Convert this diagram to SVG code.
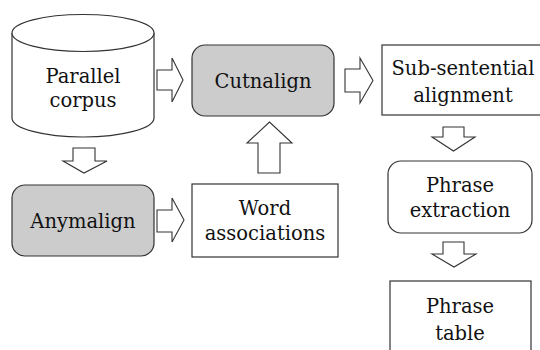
<svg xmlns="http://www.w3.org/2000/svg" width="540" height="350" viewBox="0 0 540 350">
<style>
.box{stroke:#333;stroke-width:1.2;}
.g{fill:#cccccc;}
.w{fill:#fff;}
text{font-family:'DejaVu Serif',serif;font-size:19.5px;fill:#111;text-anchor:middle;}
.arr{fill:#fff;stroke:#333;stroke-width:1.1;stroke-linejoin:miter;}
</style>
<rect width="540" height="350" fill="#fff"/>
<g id="parallel-corpus">
<path class="box w" d="M12,33 L12,118 A71,19 0 0 0 154,118 L154,33"/>
<ellipse class="box w" cx="83" cy="33" rx="71" ry="18.5"/>
<text x="83" y="83">Parallel</text>
<text x="83" y="107">corpus</text>
</g>
<g id="cutnalign">
<rect class="box g" x="192" y="45" width="142" height="71" rx="13"/>
<text x="263" y="88">Cutnalign</text>
</g>
<g id="sub-sentential">
<rect class="box w" x="382" y="45" width="170" height="70"/>
<text x="463" y="75">Sub-sentential</text>
<text x="463" y="102">alignment</text>
</g>
<g id="anymalign">
<rect class="box g" x="12" y="185" width="142" height="71" rx="13"/>
<text x="83" y="228">Anymalign</text>
</g>
<g id="word-associations">
<rect class="box w" x="192" y="184" width="146" height="73"/>
<text x="265" y="215">Word</text>
<text x="265" y="240">associations</text>
</g>
<g id="phrase-extraction">
<rect class="box w" x="388" y="161" width="144" height="72" rx="13"/>
<text x="460" y="192">Phrase</text>
<text x="460" y="217">extraction</text>
</g>
<g id="phrase-table">
<rect class="box w" x="390" y="281" width="141" height="80"/>
<text x="460" y="313">Phrase</text>
<text x="460" y="340">table</text>
</g>
<g id="connectors">
<polygon class="arr" points="157,70 172,70 172,58 183,80 172,102 172,90 157,90"/>
<polygon class="arr" points="345,69 360,69 360,58 373,80.5 360,103 360,92 345,92"/>
<polygon class="arr" points="157,210 172,210 172,198 184,220 172,242 172,232 157,232"/>
<polygon class="arr" points="258,173 258,143 247,143 269.5,122 292,143 280,143 280,173"/>
<polygon class="arr" points="73,148 95,148 95,161 107,161 84,173 63,161 73,161"/>
<polygon class="arr" points="443,127 464,127 464,137 475,137 453.5,151 432,137 443,137"/>
<polygon class="arr" points="443,242 464,242 464,254 476,254 454,267 432,254 443,254"/>
</g>
</svg>
